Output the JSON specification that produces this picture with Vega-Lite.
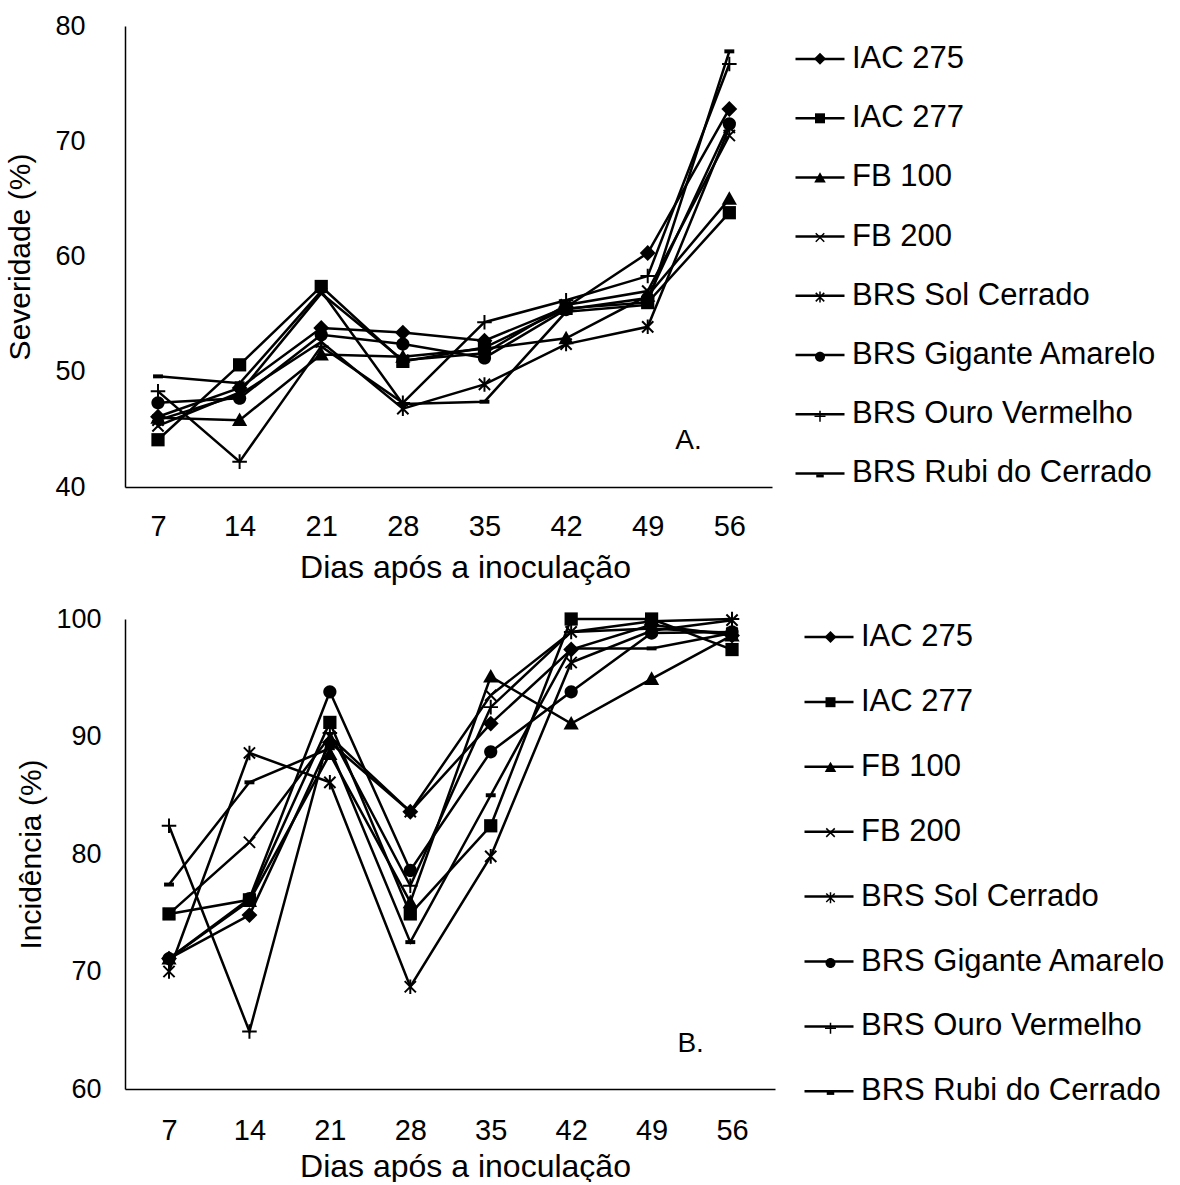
{
  "$schema": "https://vega.github.io/schema/vega-lite/v6.json",
  "background": "white",
  "padding": {"left": 5, "top": 12, "right": 0, "bottom": 0},
  "spacing": 22,
  "config": {
    "font": "Liberation Sans",
    "view": {"stroke": null},
    "axis": {
      "domainColor": "black",
      "domainWidth": 1.5,
      "ticks": false,
      "grid": false,
      "labelFontSize": 27,
      "labelColor": "black",
      "labelFont": "Liberation Sans",
      "titleFontSize": 30,
      "titleFontWeight": "normal",
      "titleColor": "black",
      "titleFont": "Liberation Sans"
    },
    "axisX": {"labelFontSize": 29, "titleFontSize": 32},
    "legend": {
      "labelFontSize": 31,
      "labelColor": "black",
      "labelFont": "Liberation Sans",
      "labelLimit": 500,
      "padding": 0
    }
  },
  "datasets": {
    "sev": [
      {"cultivar": "IAC 275", "dia": 7, "valor": 46.1},
      {"cultivar": "IAC 275", "dia": 14, "valor": 48.6},
      {"cultivar": "IAC 275", "dia": 21, "valor": 53.8},
      {"cultivar": "IAC 275", "dia": 28, "valor": 53.4},
      {"cultivar": "IAC 275", "dia": 35, "valor": 52.7},
      {"cultivar": "IAC 275", "dia": 42, "valor": 55.6},
      {"cultivar": "IAC 275", "dia": 49, "valor": 60.3},
      {"cultivar": "IAC 275", "dia": 56, "valor": 72.8},
      {"cultivar": "IAC 277", "dia": 7, "valor": 44.1},
      {"cultivar": "IAC 277", "dia": 14, "valor": 50.6},
      {"cultivar": "IAC 277", "dia": 21, "valor": 57.4},
      {"cultivar": "IAC 277", "dia": 28, "valor": 50.9},
      {"cultivar": "IAC 277", "dia": 35, "valor": 52.1},
      {"cultivar": "IAC 277", "dia": 42, "valor": 55.5},
      {"cultivar": "IAC 277", "dia": 49, "valor": 56.0},
      {"cultivar": "IAC 277", "dia": 56, "valor": 63.8},
      {"cultivar": "FB 100", "dia": 7, "valor": 46.0},
      {"cultivar": "FB 100", "dia": 14, "valor": 45.8},
      {"cultivar": "FB 100", "dia": 21, "valor": 51.5},
      {"cultivar": "FB 100", "dia": 28, "valor": 51.3},
      {"cultivar": "FB 100", "dia": 35, "valor": 52.0},
      {"cultivar": "FB 100", "dia": 42, "valor": 52.9},
      {"cultivar": "FB 100", "dia": 49, "valor": 56.6},
      {"cultivar": "FB 100", "dia": 56, "valor": 65.0},
      {"cultivar": "FB 200", "dia": 7, "valor": 45.3},
      {"cultivar": "FB 200", "dia": 14, "valor": 48.2},
      {"cultivar": "FB 200", "dia": 21, "valor": 56.8},
      {"cultivar": "FB 200", "dia": 28, "valor": 51.0},
      {"cultivar": "FB 200", "dia": 35, "valor": 51.6},
      {"cultivar": "FB 200", "dia": 42, "valor": 55.8},
      {"cultivar": "FB 200", "dia": 49, "valor": 57.0},
      {"cultivar": "FB 200", "dia": 56, "valor": 70.5},
      {"cultivar": "BRS Sol Cerrado", "dia": 7, "valor": 45.8},
      {"cultivar": "BRS Sol Cerrado", "dia": 14, "valor": 48.0},
      {"cultivar": "BRS Sol Cerrado", "dia": 21, "valor": 52.6},
      {"cultivar": "BRS Sol Cerrado", "dia": 28, "valor": 46.8},
      {"cultivar": "BRS Sol Cerrado", "dia": 35, "valor": 48.9},
      {"cultivar": "BRS Sol Cerrado", "dia": 42, "valor": 52.4},
      {"cultivar": "BRS Sol Cerrado", "dia": 49, "valor": 53.9},
      {"cultivar": "BRS Sol Cerrado", "dia": 56, "valor": 71.2},
      {"cultivar": "BRS Gigante Amarelo", "dia": 7, "valor": 47.3},
      {"cultivar": "BRS Gigante Amarelo", "dia": 14, "valor": 47.7},
      {"cultivar": "BRS Gigante Amarelo", "dia": 21, "valor": 53.2},
      {"cultivar": "BRS Gigante Amarelo", "dia": 28, "valor": 52.4},
      {"cultivar": "BRS Gigante Amarelo", "dia": 35, "valor": 51.2},
      {"cultivar": "BRS Gigante Amarelo", "dia": 42, "valor": 55.4},
      {"cultivar": "BRS Gigante Amarelo", "dia": 49, "valor": 56.4},
      {"cultivar": "BRS Gigante Amarelo", "dia": 56, "valor": 71.5},
      {"cultivar": "BRS Ouro Vermelho", "dia": 7, "valor": 48.3},
      {"cultivar": "BRS Ouro Vermelho", "dia": 14, "valor": 42.2},
      {"cultivar": "BRS Ouro Vermelho", "dia": 21, "valor": 52.2},
      {"cultivar": "BRS Ouro Vermelho", "dia": 28, "valor": 47.3},
      {"cultivar": "BRS Ouro Vermelho", "dia": 35, "valor": 54.3},
      {"cultivar": "BRS Ouro Vermelho", "dia": 42, "valor": 56.2},
      {"cultivar": "BRS Ouro Vermelho", "dia": 49, "valor": 58.3},
      {"cultivar": "BRS Ouro Vermelho", "dia": 56, "valor": 76.7},
      {"cultivar": "BRS Rubi do Cerrado", "dia": 7, "valor": 49.6},
      {"cultivar": "BRS Rubi do Cerrado", "dia": 14, "valor": 49.0},
      {"cultivar": "BRS Rubi do Cerrado", "dia": 21, "valor": 57.0},
      {"cultivar": "BRS Rubi do Cerrado", "dia": 28, "valor": 47.2},
      {"cultivar": "BRS Rubi do Cerrado", "dia": 35, "valor": 47.4},
      {"cultivar": "BRS Rubi do Cerrado", "dia": 42, "valor": 55.2},
      {"cultivar": "BRS Rubi do Cerrado", "dia": 49, "valor": 55.8},
      {"cultivar": "BRS Rubi do Cerrado", "dia": 56, "valor": 77.8}
    ],
    "inc": [
      {"cultivar": "IAC 275", "dia": 7, "valor": 71.1},
      {"cultivar": "IAC 275", "dia": 14, "valor": 74.8},
      {"cultivar": "IAC 275", "dia": 21, "valor": 89.5},
      {"cultivar": "IAC 275", "dia": 28, "valor": 83.6},
      {"cultivar": "IAC 275", "dia": 35, "valor": 91.1},
      {"cultivar": "IAC 275", "dia": 42, "valor": 97.4},
      {"cultivar": "IAC 275", "dia": 49, "valor": 99.5},
      {"cultivar": "IAC 275", "dia": 56, "valor": 98.6},
      {"cultivar": "IAC 277", "dia": 7, "valor": 74.9},
      {"cultivar": "IAC 277", "dia": 14, "valor": 76.1},
      {"cultivar": "IAC 277", "dia": 21, "valor": 91.2},
      {"cultivar": "IAC 277", "dia": 28, "valor": 74.9},
      {"cultivar": "IAC 277", "dia": 35, "valor": 82.4},
      {"cultivar": "IAC 277", "dia": 42, "valor": 100.0},
      {"cultivar": "IAC 277", "dia": 49, "valor": 100.0},
      {"cultivar": "IAC 277", "dia": 56, "valor": 97.4},
      {"cultivar": "FB 100", "dia": 7, "valor": 71.1},
      {"cultivar": "FB 100", "dia": 14, "valor": 76.0},
      {"cultivar": "FB 100", "dia": 21, "valor": 88.5},
      {"cultivar": "FB 100", "dia": 28, "valor": 75.9},
      {"cultivar": "FB 100", "dia": 35, "valor": 95.1},
      {"cultivar": "FB 100", "dia": 42, "valor": 91.1},
      {"cultivar": "FB 100", "dia": 49, "valor": 94.9},
      {"cultivar": "FB 100", "dia": 56, "valor": 98.6},
      {"cultivar": "FB 200", "dia": 7, "valor": 74.9},
      {"cultivar": "FB 200", "dia": 14, "valor": 81.0},
      {"cultivar": "FB 200", "dia": 21, "valor": 90.0},
      {"cultivar": "FB 200", "dia": 28, "valor": 83.6},
      {"cultivar": "FB 200", "dia": 35, "valor": 93.5},
      {"cultivar": "FB 200", "dia": 42, "valor": 98.9},
      {"cultivar": "FB 200", "dia": 49, "valor": 99.2},
      {"cultivar": "FB 200", "dia": 56, "valor": 98.8},
      {"cultivar": "BRS Sol Cerrado", "dia": 7, "valor": 70.0},
      {"cultivar": "BRS Sol Cerrado", "dia": 14, "valor": 88.6},
      {"cultivar": "BRS Sol Cerrado", "dia": 21, "valor": 86.1},
      {"cultivar": "BRS Sol Cerrado", "dia": 28, "valor": 68.7},
      {"cultivar": "BRS Sol Cerrado", "dia": 35, "valor": 79.8},
      {"cultivar": "BRS Sol Cerrado", "dia": 42, "valor": 96.3},
      {"cultivar": "BRS Sol Cerrado", "dia": 49, "valor": 99.0},
      {"cultivar": "BRS Sol Cerrado", "dia": 56, "valor": 99.9},
      {"cultivar": "BRS Gigante Amarelo", "dia": 7, "valor": 71.1},
      {"cultivar": "BRS Gigante Amarelo", "dia": 14, "valor": 76.2},
      {"cultivar": "BRS Gigante Amarelo", "dia": 21, "valor": 93.8},
      {"cultivar": "BRS Gigante Amarelo", "dia": 28, "valor": 78.6},
      {"cultivar": "BRS Gigante Amarelo", "dia": 35, "valor": 88.7},
      {"cultivar": "BRS Gigante Amarelo", "dia": 42, "valor": 93.8},
      {"cultivar": "BRS Gigante Amarelo", "dia": 49, "valor": 98.8},
      {"cultivar": "BRS Gigante Amarelo", "dia": 56, "valor": 98.9},
      {"cultivar": "BRS Ouro Vermelho", "dia": 7, "valor": 82.4},
      {"cultivar": "BRS Ouro Vermelho", "dia": 14, "valor": 64.9},
      {"cultivar": "BRS Ouro Vermelho", "dia": 21, "valor": 90.3},
      {"cultivar": "BRS Ouro Vermelho", "dia": 28, "valor": 77.3},
      {"cultivar": "BRS Ouro Vermelho", "dia": 35, "valor": 92.5},
      {"cultivar": "BRS Ouro Vermelho", "dia": 42, "valor": 98.9},
      {"cultivar": "BRS Ouro Vermelho", "dia": 49, "valor": 99.8},
      {"cultivar": "BRS Ouro Vermelho", "dia": 56, "valor": 100.0},
      {"cultivar": "BRS Rubi do Cerrado", "dia": 7, "valor": 77.4},
      {"cultivar": "BRS Rubi do Cerrado", "dia": 14, "valor": 86.1},
      {"cultivar": "BRS Rubi do Cerrado", "dia": 21, "valor": 89.0},
      {"cultivar": "BRS Rubi do Cerrado", "dia": 28, "valor": 72.5},
      {"cultivar": "BRS Rubi do Cerrado", "dia": 35, "valor": 85.0},
      {"cultivar": "BRS Rubi do Cerrado", "dia": 42, "valor": 97.5},
      {"cultivar": "BRS Rubi do Cerrado", "dia": 49, "valor": 97.5},
      {"cultivar": "BRS Rubi do Cerrado", "dia": 56, "valor": 98.8}
    ],
    "rotA": [{"dia": 52.5, "valor": 44.0, "t": "A."}],
    "rotB": [{"dia": 52.4, "valor": 63.8, "t": "B."}]
  },
  "vconcat": [
    {
      "width": 647,
      "height": 461,
      "layer": [
        {
          "data": {"name": "sev"},
          "mark": {"type": "line", "strokeWidth": 2.5},
          "encoding": {
            "x": {"field": "dia", "type": "quantitative", "scale": {"domain": [4.17, 59.66], "nice": false, "zero": false},
                  "axis": {"values": [7, 14, 21, 28, 35, 42, 49, 56], "title": "Dias após a inoculação", "labelPadding": 25, "titlePadding": 11, "titleX": 340}},
            "y": {"field": "valor", "type": "quantitative", "scale": {"domain": [40, 80], "nice": false, "zero": false},
                  "axis": {"values": [40, 50, 60, 70, 80], "title": "Severidade (%)", "labelPadding": 40, "titlePadding": 19}},
            "color": {
              "field": "cultivar", "type": "nominal",
              "sort": ["IAC 275", "IAC 277", "FB 100", "FB 200", "BRS Sol Cerrado", "BRS Gigante Amarelo", "BRS Ouro Vermelho", "BRS Rubi do Cerrado"],
              "scale": {"range": ["black", "black", "black", "black", "black", "black", "black", "black"]},
              "legend": {
                "title": null, "orient": "none", "legendX": 669, "legendY": 7,
                "symbolType": "stroke", "symbolSize": 2401, "symbolStrokeWidth": 2.5, "symbolStrokeColor": "black",
                "labelOffset": 6, "rowPadding": 18.2
              }
            }
          }
        },
        {
          "data": {"name": "sev"},
          "mark": {"type": "point", "filled": true, "fill": "black", "strokeWidth": 0, "size": 175, "opacity": 1},
          "encoding": {
            "x": {"field": "dia", "type": "quantitative"},
            "y": {"field": "valor", "type": "quantitative"},
            "shape": {
              "field": "cultivar", "type": "nominal",
              "scale": {
                "domain": ["IAC 275", "IAC 277", "FB 100", "FB 200", "BRS Sol Cerrado", "BRS Gigante Amarelo", "BRS Ouro Vermelho", "BRS Rubi do Cerrado"],
                "range": [
                  "M0,-1.2L1.2,0L0,1.2L-1.2,0Z",
                  "M-1,-1H1V1H-1Z",
                  "M0,-1.15L1.15,0.9H-1.15Z",
                  "M-0.744,-0.956L0.956,0.744L0.744,0.956L-0.956,-0.744ZM-0.956,0.744L0.744,-0.956L0.956,-0.744L-0.744,0.956Z",
                  "M-0.744,-0.956L0.956,0.744L0.744,0.956L-0.956,-0.744ZM-0.956,0.744L0.744,-0.956L0.956,-0.744L-0.744,0.956ZM-0.15,-1.1H0.15V1.1H-0.15Z",
                  "M1,0A1,1,0,1,1,-1,0A1,1,0,1,1,1,0Z",
                  "M-1.1,-0.15H-0.15V-1.1H0.15V-0.15H1.1V0.15H0.15V1.1H-0.15V0.15H-1.1Z",
                  "M-0.75,-0.3H0.75V0.3H-0.75Z"
                ]
              },
              "legend": {
                "title": null, "orient": "none", "legendX": 669, "legendY": 17.2,
                "symbolSize": 100, "symbolStrokeWidth": 0, "symbolFillColor": "black",
                "symbolOffset": 10.5, "labelExpr": "''", "rowPadding": 27.6
              }
            }
          }
        },
        {
          "data": {"name": "rotA"},
          "mark": {"type": "text", "fontSize": 28, "color": "black", "font": "Liberation Sans"},
          "encoding": {
            "x": {"field": "dia", "type": "quantitative"},
            "y": {"field": "valor", "type": "quantitative"},
            "text": {"field": "t"}
          }
        }
      ]
    },
    {
      "width": 650,
      "height": 470,
      "layer": [
        {
          "data": {"name": "inc"},
          "mark": {"type": "line", "strokeWidth": 2.5},
          "encoding": {
            "x": {"field": "dia", "type": "quantitative", "scale": {"domain": [3.17, 59.74], "nice": false, "zero": false},
                  "axis": {"values": [7, 14, 21, 28, 35, 42, 49, 56], "title": "Dias após a inoculação", "labelPadding": 27, "titlePadding": 6, "titleX": 340}},
            "y": {"field": "valor", "type": "quantitative", "scale": {"domain": [60, 100], "nice": false, "zero": false},
                  "axis": {"values": [60, 70, 80, 90, 100], "title": "Incidência (%)", "labelPadding": 24, "titlePadding": 9}},
            "color": {
              "field": "cultivar", "type": "nominal",
              "sort": ["IAC 275", "IAC 277", "FB 100", "FB 200", "BRS Sol Cerrado", "BRS Gigante Amarelo", "BRS Ouro Vermelho", "BRS Rubi do Cerrado"],
              "scale": {"range": ["black", "black", "black", "black", "black", "black", "black", "black"]},
              "legend": {
                "title": null, "orient": "none", "legendX": 678, "legendY": -8,
                "symbolType": "stroke", "symbolSize": 2401, "symbolStrokeWidth": 2.5, "symbolStrokeColor": "black",
                "labelOffset": 6, "rowPadding": 23.9
              }
            }
          }
        },
        {
          "data": {"name": "inc"},
          "mark": {"type": "point", "filled": true, "fill": "black", "strokeWidth": 0, "size": 175, "opacity": 1},
          "encoding": {
            "x": {"field": "dia", "type": "quantitative"},
            "y": {"field": "valor", "type": "quantitative"},
            "shape": {
              "field": "cultivar", "type": "nominal",
              "scale": {
                "domain": ["IAC 275", "IAC 277", "FB 100", "FB 200", "BRS Sol Cerrado", "BRS Gigante Amarelo", "BRS Ouro Vermelho", "BRS Rubi do Cerrado"],
                "range": [
                  "M0,-1.2L1.2,0L0,1.2L-1.2,0Z",
                  "M-1,-1H1V1H-1Z",
                  "M0,-1.15L1.15,0.9H-1.15Z",
                  "M-0.744,-0.956L0.956,0.744L0.744,0.956L-0.956,-0.744ZM-0.956,0.744L0.744,-0.956L0.956,-0.744L-0.744,0.956Z",
                  "M-0.744,-0.956L0.956,0.744L0.744,0.956L-0.956,-0.744ZM-0.956,0.744L0.744,-0.956L0.956,-0.744L-0.744,0.956ZM-0.15,-1.1H0.15V1.1H-0.15Z",
                  "M1,0A1,1,0,1,1,-1,0A1,1,0,1,1,1,0Z",
                  "M-1.1,-0.15H-0.15V-1.1H0.15V-0.15H1.1V0.15H0.15V1.1H-0.15V0.15H-1.1Z",
                  "M-0.75,-0.3H0.75V0.3H-0.75Z"
                ]
              },
              "legend": {
                "title": null, "orient": "none", "legendX": 678, "legendY": 2.5,
                "symbolSize": 100, "symbolStrokeWidth": 0, "symbolFillColor": "black",
                "symbolOffset": 12, "labelExpr": "''", "rowPadding": 33.2
              }
            }
          }
        },
        {
          "data": {"name": "rotB"},
          "mark": {"type": "text", "fontSize": 28, "color": "black", "font": "Liberation Sans"},
          "encoding": {
            "x": {"field": "dia", "type": "quantitative"},
            "y": {"field": "valor", "type": "quantitative"},
            "text": {"field": "t"}
          }
        }
      ]
    }
  ],
  "resolve": {
    "scale": {"shape": "independent", "color": "independent", "x": "independent", "y": "independent"},
    "legend": {"shape": "independent", "color": "independent"}
  }
}
